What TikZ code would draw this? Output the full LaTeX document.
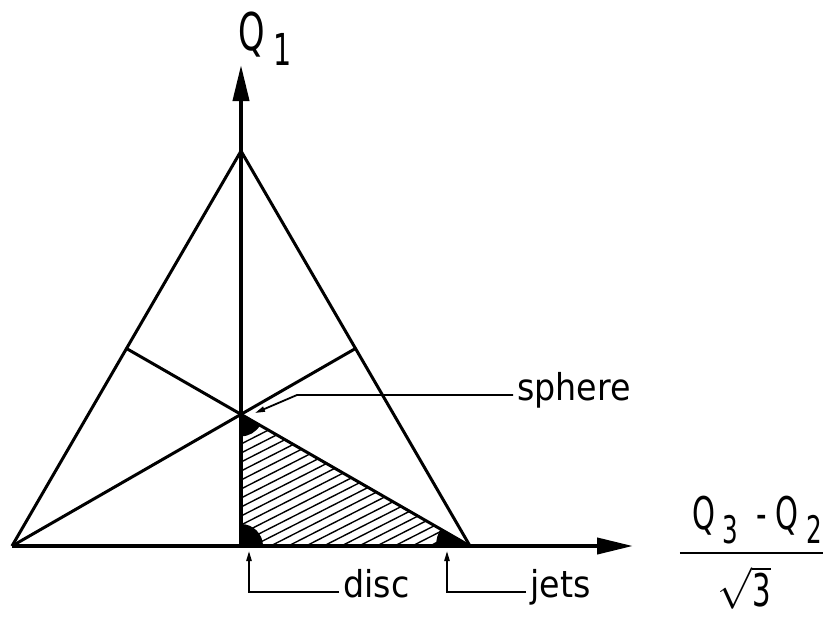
\documentclass[tikz,border=0pt]{standalone}
\usepackage{fontspec}
\setmainfont{DejaVu Sans Condensed}
\newfontfamily\narrowfont[FakeStretch=0.72]{DejaVu Sans Condensed}
\usetikzlibrary{arrows.meta,calc}
\newcommand\lowsub[2]{\,\raisebox{-0.3em}{\fontsize{#1}{#1}\selectfont #2}}
\tikzset{
  >={Triangle[length=5pt, width=2.6pt]},
  side/.style={line width=1.5pt},
  axis/.style={line width=2pt, -{Triangle[length=18pt, width=8pt]}},
  leader/.style={line width=0.9pt, ->},
  hatch/.style={line width=0.7pt},
  corner/.style={fill=black},
  fracbar/.style={line width=1.2pt},
  lbl/.style={inner sep=2pt, font=\fontsize{18.5}{22}\selectfont},
  qlbl/.style={inner sep=0pt, font=\narrowfont\fontsize{26}{30}\selectfont},
  fraclbl/.style={inner sep=0pt, font=\narrowfont\fontsize{22.5}{27}\selectfont},
}

\begin{document}
\begin{tikzpicture}[x=0.5pt, y=0.5pt]
  \useasboundingbox (0,0) rectangle (823,618);
  % corners of the triangle
  \coordinate (vl) at (12,72);
  \coordinate (vr) at (470,72);
  \coordinate (vt) at (241,467);
  \coordinate (foot) at (241,72);
  \coordinate (ml) at ($(vl)!0.5!(vt)$);
  \coordinate (mr) at ($(vr)!0.5!(vt)$);
  \coordinate (ctr) at ($(vl)!2/3!(mr)$);
  \coordinate (ytip) at (241,553);
  \coordinate (xtip) at (633,72);

  % hatched region
  \begin{scope}
    \clip (ctr) -- (foot) -- (vr) -- cycle;
    \foreach \c in {-60,-51,...,210}
      \draw[hatch] (241,\c) -- ++(240,122);
  \end{scope}
  \fill[corner] (ctr) -- ++(-90:11pt) arc[start angle=-90, end angle=-30, radius=11pt] -- cycle;
  \fill[corner] (foot) -- ++(0:11pt) arc[start angle=0, end angle=90, radius=11pt] -- cycle;
  \fill[corner] (vr) -- ++(150:17pt) arc[start angle=150, end angle=180, radius=17pt] -- cycle;

  \draw[side] (vl) -- (vt) -- (vr);
  \draw[side] (ml) -- (vr);
  \draw[side] (mr) -- (vl);

  \draw[axis] (foot) -- (ytip);
  \draw[axis] (vl) -- (xtip);

  % axis labels
  \node[qlbl, anchor=base west] (q1) at (238,568) {Q\lowsub{22}{1}};
  \node[fraclbl, anchor=south] (num) at (757,74) {Q\lowsub{19}{3}\hspace{0.4em}-\hspace{0.2em}Q\lowsub{19}{2}};
  \node[fraclbl, anchor=north] (den) at (744,52) {$\sqrt{\mbox{3}}$};
  \draw[fracbar] ($(num.south west)+(-12,-9)$) -- ($(num.south east)+(11,-9)$);

  \node[lbl, anchor=mid west] (sph) at (513,223) {sphere};
  \node[lbl, anchor=mid west] (dsc) at (339,26) {disc};
  \node[lbl, anchor=mid west] (jet) at (526,26) {jets};

  \coordinate (sphtip) at (255,205);
  \coordinate (disctip) at (249,67);
  \coordinate (jettip) at (447,67);
  \draw[leader] (sph.mid west) -- ++(-216,0) -- (sphtip);
  \draw[leader] (dsc.mid west) -| (disctip);
  \draw[leader] (jet.mid west) -| (jettip);
\end{tikzpicture}
\end{document}
